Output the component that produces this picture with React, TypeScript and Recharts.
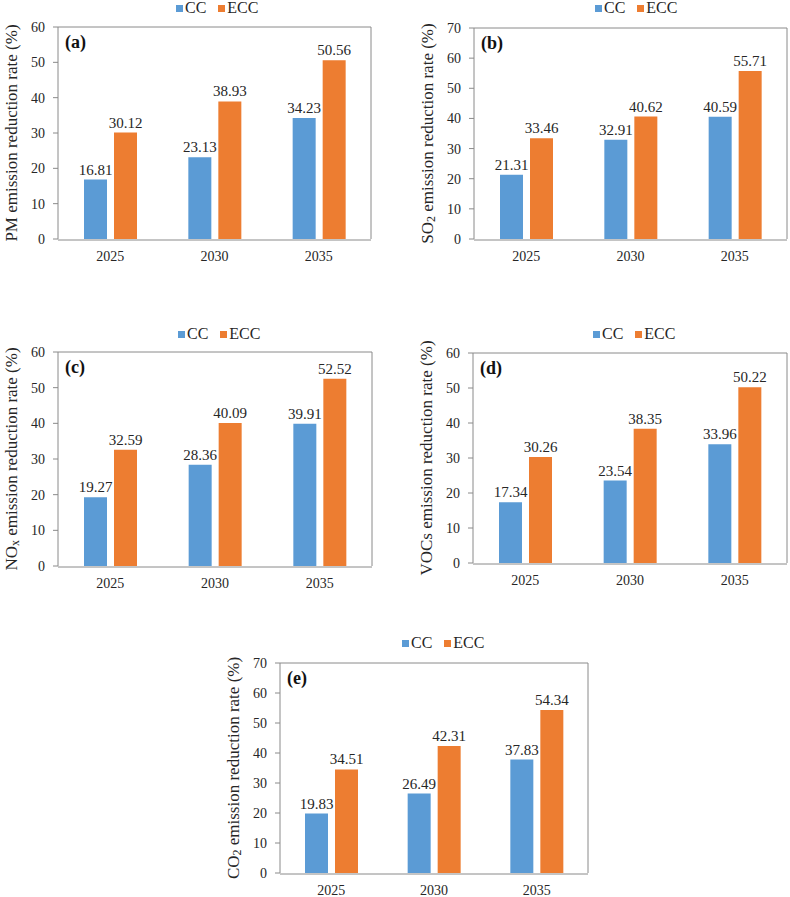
import { BarChart, Bar, XAxis, YAxis, LabelList } from "recharts";

const YEARS = ["2025", "2030", "2035"];

const PM_CC = [16.81, 23.13, 34.23];
const PM_ECC = [30.12, 38.93, 50.56];
const SO2_CC = [21.31, 32.91, 40.59];
const SO2_ECC = [33.46, 40.62, 55.71];
const NOX_CC = [19.27, 28.36, 39.91];
const NOX_ECC = [32.59, 40.09, 52.52];
const VOC_CC = [17.34, 23.54, 33.96];
const VOC_ECC = [30.26, 38.35, 50.22];
const CO2_CC = [19.83, 26.49, 37.83];
const CO2_ECC = [34.51, 42.31, 54.34];

const TICKS_60 = [0, 10, 20, 30, 40, 50, 60];
const TICKS_70 = [0, 10, 20, 30, 40, 50, 60, 70];
const EDGE_TICKS = [0, 1, 2, 3];

const BLUE = "#5b9bd5";
const ORANGE = "#ed7d31";
const AXIS = "#8a8a8a";
const TEXT = "#262626";
const FONT = "'Liberation Serif', 'Times New Roman', serif";
const Y_W = 30;

type Part = { t: string; sub?: boolean };

interface PanelProps {
  tag: string;
  cc: number[];
  ecc: number[];
  ticks: number[];
  yLabel: Part[];
  box: [number, number, number, number]; // left, top, width, height
  plot: [number, number, number, number]; // x0, y0, x1, y1 (page coords)
  legend: [number, number];
}

const YearTick = (props: any) => (
  <text
    x={props.x}
    y={props.y + 22}
    textAnchor="middle"
    fontSize={14}
    fill={TEXT}
    fontFamily={FONT}
  >
    {props.payload.value}
  </text>
);

const yLabelContent = (parts: Part[]) => (props: any) => {
  const vb = props.viewBox || { x: 0, y: 0, width: Y_W, height: 0 };
  const cx = vb.x + vb.width - 47;
  const cy = vb.y + vb.height / 2;
  return (
    <text
      x={cx}
      y={cy}
      transform={`rotate(-90, ${cx}, ${cy})`}
      textAnchor="middle"
      dominantBaseline="central"
      fontSize={17}
      fill={TEXT}
      fontFamily={FONT}
    >
      {parts.map((p, i) =>
        p.sub ? (
          <tspan key={i} dy={4} fontSize={12}>
            {p.t}
          </tspan>
        ) : (
          <tspan key={i} dy={i > 0 && parts[i - 1].sub ? -4 : 0}>
            {p.t}
          </tspan>
        )
      )}
    </text>
  );
};

function Legend({ x, y }: { x: number; y: number }) {
  const item = (color: string, label: string) => (
    <div style={{ display: "flex", alignItems: "center", marginRight: 12 }}>
      <div style={{ width: 7, height: 7, background: color, marginRight: 2 }} />
      <span>{label}</span>
    </div>
  );
  return (
    <div
      style={{
        position: "absolute",
        left: x,
        top: y - 9,
        height: 18,
        display: "flex",
        alignItems: "center",
        fontFamily: FONT,
        fontSize: 16,
        color: TEXT,
        whiteSpace: "nowrap",
      }}
    >
      {item(BLUE, "CC")}
      {item(ORANGE, "ECC")}
    </div>
  );
}

function Panel({ tag, cc, ecc, ticks, yLabel, box, plot, legend }: PanelProps) {
  const [bl, bt, bw, bh] = box;
  const [x0, y0, x1, y1] = plot;
  const data = YEARS.map((year, i) => ({ year, cc: cc[i], ecc: ecc[i] }));
  const margin = {
    left: x0 - bl - Y_W,
    top: y0 - bt - 1,
    right: bl + bw - x1 - 1,
    bottom: bt + bh - y1 - 2,
  };
  const yMax = ticks[ticks.length - 1];

  return (
    <>
      <div style={{ position: "absolute", left: bl, top: bt }}>
        <BarChart
          width={bw}
          height={bh}
          data={data}
          margin={margin}
          barSize={23}
          barGap={7}
        >
          <XAxis
            xAxisId="edge"
            type="number"
            domain={[0, 3]}
            ticks={EDGE_TICKS}
            tick={false}
            tickSize={5}
            height={1}
            axisLine={{ stroke: AXIS }}
            tickLine={{ stroke: AXIS }}
          />
          <XAxis
            xAxisId="cat"
            dataKey="year"
            height={1}
            interval={0}
            tickSize={0}
            tickMargin={0}
            axisLine={false}
            tickLine={false}
            tick={<YearTick />}
          />
          <XAxis
            xAxisId="top"
            dataKey="year"
            orientation="top"
            height={1}
            tick={false}
            tickLine={false}
            axisLine={{ stroke: AXIS }}
          />
          <YAxis
            yAxisId="v"
            width={Y_W}
            domain={[0, yMax]}
            ticks={ticks}
            interval={0}
            tickSize={5}
            tickMargin={8}
            axisLine={{ stroke: AXIS }}
            tickLine={{ stroke: AXIS }}
            tick={{ fontSize: 14, fill: TEXT, fontFamily: FONT }}
            label={{ content: yLabelContent(yLabel) }}
          />
          <YAxis
            yAxisId="right"
            orientation="right"
            width={1}
            domain={[0, 1]}
            tick={false}
            tickLine={false}
            axisLine={{ stroke: AXIS }}
          />
          <Bar
            dataKey="cc"
            name="CC"
            xAxisId="cat"
            yAxisId="v"
            fill={BLUE}
            isAnimationActive={false}
          >
            <LabelList
              dataKey="cc"
              position="top"
              offset={5}
              fontSize={15}
              fill={TEXT}
              fontFamily={FONT}
            />
          </Bar>
          <Bar
            dataKey="ecc"
            name="ECC"
            xAxisId="cat"
            yAxisId="v"
            fill={ORANGE}
            isAnimationActive={false}
          >
            <LabelList
              dataKey="ecc"
              position="top"
              offset={5}
              fontSize={15}
              fill={TEXT}
              fontFamily={FONT}
            />
          </Bar>
        </BarChart>
      </div>
      <Legend x={legend[0]} y={legend[1]} />
      <div
        style={{
          position: "absolute",
          left: x0 + 7,
          top: y0 + 5,
          fontFamily: FONT,
          fontWeight: "bold",
          fontSize: 18,
          color: "#111",
          lineHeight: "20px",
        }}
      >
        {tag}
      </div>
    </>
  );
}

export default function App() {
  return (
    <div
      style={{
        position: "absolute",
        left: 0,
        top: 0,
        width: 790,
        height: 897,
        background: "#fff",
        overflow: "hidden",
      }}
    >
      <Panel
        tag="(a)"
        cc={PM_CC}
        ecc={PM_ECC}
        ticks={TICKS_60}
        yLabel={[{ t: "PM emission reduction rate (%)" }]}
        box={[0, 0, 395, 300]}
        plot={[58, 27, 371, 239]}
        legend={[176, 8]}
      />
      <Panel
        tag="(b)"
        cc={SO2_CC}
        ecc={SO2_ECC}
        ticks={TICKS_70}
        yLabel={[{ t: "SO" }, { t: "2", sub: true }, { t: " emission reduction rate (%)" }]}
        box={[395, 0, 395, 300]}
        plot={[474, 28, 787, 239]}
        legend={[595, 8]}
      />
      <Panel
        tag="(c)"
        cc={NOX_CC}
        ecc={NOX_ECC}
        ticks={TICKS_60}
        yLabel={[{ t: "NO" }, { t: "x", sub: true }, { t: " emission reduction rate (%)" }]}
        box={[0, 320, 395, 300]}
        plot={[58, 352, 372, 566]}
        legend={[178, 334]}
      />
      <Panel
        tag="(d)"
        cc={VOC_CC}
        ecc={VOC_ECC}
        ticks={TICKS_60}
        yLabel={[{ t: "VOCs emission reduction rate (%)" }]}
        box={[395, 320, 395, 300]}
        plot={[473, 353, 787, 563]}
        legend={[593, 334]}
      />
      <Panel
        tag="(e)"
        cc={CO2_CC}
        ecc={CO2_ECC}
        ticks={TICKS_70}
        yLabel={[{ t: "CO" }, { t: "2", sub: true }, { t: " emission reduction rate (%)" }]}
        box={[195, 620, 400, 277]}
        plot={[280, 663, 588, 873]}
        legend={[402, 643]}
      />
    </div>
  );
}
